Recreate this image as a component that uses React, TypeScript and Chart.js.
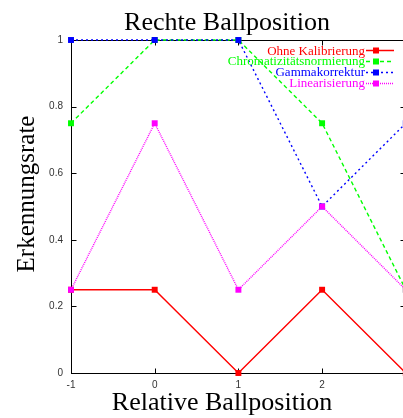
import React, { useEffect, useRef } from "react";
import { Chart, registerables } from "chart.js";

Chart.register(...registerables);

const positions = [-1, 0, 1, 2, 3];
const ohneKalibrierung = [0.25, 0.25, 0, 0.25, 0];
const chromatizitaet = [0.75, 1, 1, 0.75, 0.25];
const gammakorrektur = [1, 1, 1, 0.5, 0.75];
const linearisierung = [0.25, 0.75, 0.25, 0.5, 0.25];

const seriesNames = ["Ohne Kalibrierung", "Chromatizitätsnormierung", "Gammakorrektur", "Linearisierung"];
const seriesValues = [ohneKalibrierung, chromatizitaet, gammakorrektur, linearisierung];
const seriesColors = ["#ff0000", "#00ff00", "#0000ff", "#ff00ff"];
const seriesDash: number[][] = [[], [4, 3], [2, 3], [1, 1]];

const xTicks = [-1, 0, 1, 2];
const yTicks = [0, 0.2, 0.4, 0.6, 0.8, 1];

const titleText = "Rechte Ballposition";
const xTitle = "Relative Ballposition";
const yTitle = "Erkennungsrate";

const SERIF = "'Liberation Serif', 'Times New Roman', serif";
const SANS = "'Liberation Sans', Arial, sans-serif";

const overlayPlugin = {
  id: "overlay",
  beforeDatasetsDraw(chart: any) {
    const { ctx, chartArea: a, scales } = chart;
    const xs = scales.x;
    const ys = scales.y;
    ctx.save();
    ctx.strokeStyle = "#000";
    ctx.lineWidth = 1;
    ctx.setLineDash([]);
    const top = Math.floor(a.top) + 0.5;
    const right = Math.floor(a.right) + 0.5;
    const bottom = Math.floor(a.bottom) + 0.5;
    const left = Math.floor(a.left) + 0.5;
    ctx.beginPath();
    ctx.moveTo(a.left, top);
    ctx.lineTo(a.right, top);
    ctx.moveTo(right, a.top);
    ctx.lineTo(right, a.bottom);
    const tl = 5;
    xTicks.forEach((v) => {
      const px = Math.round(xs.getPixelForValue(v)) + 0.5;
      ctx.moveTo(px, bottom);
      ctx.lineTo(px, bottom - tl);
      ctx.moveTo(px, top);
      ctx.lineTo(px, top + tl);
    });
    yTicks.forEach((v) => {
      const py = Math.round(ys.getPixelForValue(v)) + 0.5;
      ctx.moveTo(left, py);
      ctx.lineTo(left + tl, py);
      ctx.moveTo(right, py);
      ctx.lineTo(right - tl, py);
    });
    ctx.stroke();
    ctx.restore();
  },
  afterDraw(chart: any) {
    const { ctx } = chart;
    ctx.save();
    ctx.fillStyle = "#000";
    ctx.font = `26px ${SERIF}`;
    ctx.textAlign = "center";
    ctx.textBaseline = "alphabetic";
    ctx.fillText(titleText, 227, 30);
    ctx.fillText(xTitle, 222, 410);
    ctx.save();
    ctx.translate(34, 194);
    ctx.rotate(-Math.PI / 2);
    ctx.font = `25px ${SERIF}`;
    ctx.fillText(yTitle, 0, 0);
    ctx.restore();

    ctx.font = `13px ${SERIF}`;
    ctx.textAlign = "right";
    ctx.textBaseline = "alphabetic";
    const textRight = 365;
    const lineStart = 366;
    const lineEnd = 394;
    const markX = 376;
    seriesNames.forEach((name, i) => {
      const cy = 50 + i * 10.9;
      ctx.fillStyle = seriesColors[i];
      ctx.fillText(name, textRight, cy + 4.5);
      ctx.strokeStyle = seriesColors[i];
      ctx.lineWidth = 1.5;
      ctx.setLineDash(seriesDash[i]);
      ctx.beginPath();
      ctx.moveTo(lineStart, Math.round(cy) + 0.5);
      ctx.lineTo(lineEnd, Math.round(cy) + 0.5);
      ctx.stroke();
      ctx.setLineDash([]);
      ctx.fillRect(markX - 3, Math.round(cy) - 2.5, 6, 6);
    });
    ctx.restore();
  },
};

export default function App() {
  const canvasRef = useRef<HTMLCanvasElement | null>(null);

  useEffect(() => {
    const canvas = canvasRef.current;
    if (!canvas) return;
    const datasets = seriesNames.map((name, i) => ({
      label: name,
      data: positions.map((x, j) => ({ x, y: seriesValues[i][j] })),
      borderColor: seriesColors[i],
      backgroundColor: seriesColors[i],
      borderWidth: 1.4,
      borderDash: seriesDash[i],
      pointStyle: "rect" as const,
      pointRadius: 4.2,
      pointBorderWidth: 0,
      pointBackgroundColor: seriesColors[i],
      tension: 0,
      fill: false,
      clip: false as const,
      order: seriesNames.length - 1 - i,
    }));
    const chart = new Chart(canvas, {
      type: "line",
      data: { datasets },
      options: {
        animation: false,
        responsive: false,
        devicePixelRatio: 1,
        layout: { padding: { top: 40, right: 4, left: 0, bottom: 0 } },
        plugins: {
          legend: { display: false },
          title: { display: false },
          tooltip: { enabled: false },
        },
        scales: {
          x: {
            type: "linear",
            min: -1,
            max: 3,
            afterBuildTicks: (s: any) => {
              s.ticks = xTicks.map((v) => ({ value: v }));
            },
            afterFit: (s: any) => {
              s.height = 45;
            },
            ticks: {
              font: { family: SANS, size: 10 },
              color: "#333",
              padding: 6,
              maxRotation: 0,
              autoSkip: false,
              callback: (v: any) => String(v),
            },
            grid: { display: false, drawTicks: false },
            border: { display: true, color: "#000", width: 1 },
          },
          y: {
            type: "linear",
            min: 0,
            max: 1,
            afterBuildTicks: (s: any) => {
              s.ticks = yTicks.map((v) => ({ value: v }));
            },
            afterFit: (s: any) => {
              s.width = 71;
            },
            ticks: {
              font: { family: SANS, size: 10 },
              color: "#333",
              padding: 8,
              callback: (v: any) => String(v),
            },
            grid: { display: false, drawTicks: false },
            border: { display: true, color: "#000", width: 1 },
          },
        },
      },
      plugins: [overlayPlugin],
    });
    return () => chart.destroy();
  }, []);

  return (
    <div style={{ position: "fixed", left: 0, top: 0, width: 403, height: 418, overflow: "hidden", background: "#fff" }}>
      <canvas ref={canvasRef} width={410} height={418} style={{ display: "block", width: 410, height: 418 }} />
    </div>
  );
}
